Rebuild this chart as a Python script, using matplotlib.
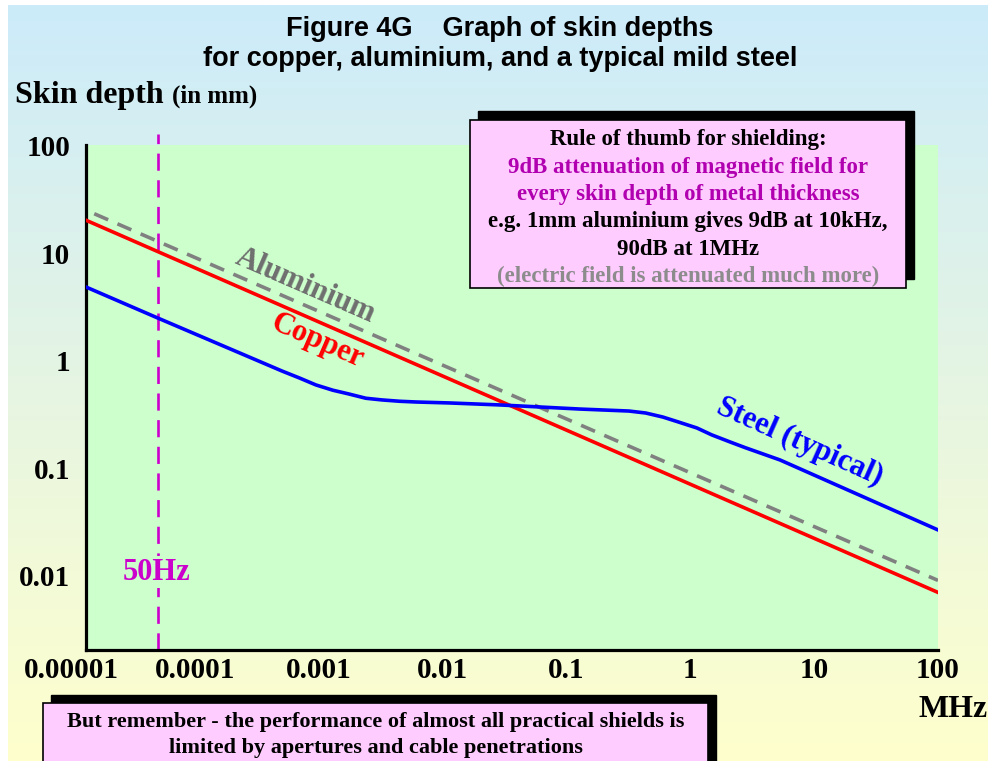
import numpy as np
import matplotlib
matplotlib.use("Agg")
import matplotlib.pyplot as plt
from matplotlib.patches import Rectangle
from matplotlib.transforms import blended_transform_factory

# data (frequency in MHz, skin depth in mm)
copper_freq = [1e-5, 100]
copper_depth = [25.0, 0.0075]

alu_freq = [1e-5, 100]
alu_depth = [31.0, 0.0097]

steel_freq = [1.32e-5, 5e-5, 5.05e-4, 7e-4, 9.5e-4, 1.3e-3,
              1.75e-3, 2.4e-3, 3.24e-3, 4.5e-3, 6.1e-3, 0.0114, 0.029, 0.128,
              0.32, 0.436, 0.6, 0.807, 1.13, 1.49, 2.1, 2.8, 5.3, 100]
steel_depth = [5.2, 2.68, 0.86, 0.74, 0.638, 0.57,
               0.526, 0.48, 0.463, 0.45, 0.443, 0.434, 0.416, 0.381,
               0.365, 0.350, 0.321, 0.288, 0.254, 0.219, 0.188, 0.166, 0.128, 0.0286]

mains_freq = 5e-5  # 50Hz

x_ticks = [1e-5, 1e-4, 1e-3, 1e-2, 1e-1, 1, 10, 100]
x_labels = ["0.00001", "0.0001", "0.001", "0.01", "0.1", "1", "10", "100"]
y_ticks = [100, 10, 1, 0.1, 0.01]
y_labels = ["100", "10", "1", "0.1", "0.01"]

W, H = 988, 761
SERIF = "Liberation Serif"
SANS = "Liberation Sans"
PINK = "#FFCCFF"
GREEN = "#CCFFCC"
MAGENTA = "#CC00CC"


def fx(x):
    return x / W


def fy(y):
    return 1 - y / H


fig = plt.figure(figsize=(W / 100, H / 100), dpi=100, facecolor="white")

# background gradient, light blue -> light yellow
bg = fig.add_axes([fx(8), 0, 1 - fx(8), fy(5)], zorder=-10)
top = np.array([204, 235, 250]) / 255
bot = np.array([255, 255, 204]) / 255
t = np.linspace(0, 1, 256)[:, None, None]
grad = top * (1 - t) + bot * t
bg.imshow(grad, aspect="auto", extent=[0, 1, 0, 1])
bg.axis("off")

# main plot
ax = fig.add_axes([fx(86), fy(650), (938 - 86) / W, (650 - 145) / H])
ax.set_facecolor(GREEN)
ax.set_xscale("log")
ax.set_yscale("log")
ax.set_xlim(1.32e-5, 100)
ax.set_ylim(0.002185, 108.9)
for s in ["top", "right"]:
    ax.spines[s].set_visible(False)
for s in ["left", "bottom"]:
    ax.spines[s].set_linewidth(2.3)
    ax.spines[s].set_color("black")
ax.tick_params(which="both", length=0, labelbottom=False, labelleft=False)

ax.plot(alu_freq, alu_depth, color="#808080", lw=2.6, dashes=(4.2, 2.8), zorder=3)
ax.plot(copper_freq, copper_depth, color="#FF0000", lw=2.6, zorder=4)
ax.plot(steel_freq, steel_depth, color="#0000FF", lw=2.6, zorder=4,
        solid_joinstyle="round")

# 50Hz marker
ax.plot([mains_freq, mains_freq], [0.002185, 138], color=MAGENTA, lw=1.9,
        dashes=(6.5, 3.6), clip_on=False, zorder=2)
ax.text(4.9e-5, 0.0116, "50Hz", color=MAGENTA, fontsize=22, fontweight="bold",
        family=SERIF, ha="center", va="center", zorder=5,
        bbox=dict(facecolor=GREEN, edgecolor="none", pad=1))

# curve labels
ax.text(7.8e-4, 5.3, "Aluminium", color="#6E6E6E", fontsize=22, fontweight="bold",
        family=SERIF, ha="center", va="center", rotation=-23.5)
ax.text(9.8e-4, 1.64, "Copper", color="#FF0000", fontsize=22, fontweight="bold",
        family=SERIF, ha="center", va="center", rotation=-23.5)
ax.text(7.7, 0.188, "Steel (typical)", color="#0000FF", fontsize=22, fontweight="bold",
        family=SERIF, ha="center", va="center", rotation=-24)

# tick labels
tx = blended_transform_factory(ax.transData, ax.transAxes)
for v, lab in zip(x_ticks, x_labels):
    ax.text(v, -20 / 505, lab, transform=tx, fontsize=21, fontweight="bold",
            family=SERIF, ha="center", va="center", clip_on=False)
ty = blended_transform_factory(ax.transAxes, ax.transData)
for v, lab in zip(y_ticks, y_labels):
    ax.text(-16 / 852, v, lab, transform=ty, fontsize=21, fontweight="bold",
            family=SERIF, ha="right", va="center", clip_on=False)

# titles and axis names
fig.text(fx(500), fy(44), "Figure 4G    Graph of skin depths\nfor copper, aluminium, and a typical mild steel",
         ha="center", va="center", fontsize=19.5, fontweight="bold", family=SANS,
         linespacing=1.22)
fig.text(fx(15), fy(103), "Skin depth", fontsize=23, fontweight="bold", family=SERIF,
         ha="left", va="baseline")
fig.text(fx(172), fy(103), "(in mm)", fontsize=18, fontweight="bold", family=SERIF,
         ha="left", va="baseline")
fig.text(fx(918), fy(717), "MHz", fontsize=23, fontweight="bold", family=SERIF,
         ha="left", va="baseline")


def shadow_box(x0, y0, x1, y1, dx, dy):
    fig.add_artist(Rectangle((fx(x0 + dx), fy(y1 + dy)), (x1 - x0) / W, (y1 - y0) / H,
                             transform=fig.transFigure, facecolor="black",
                             edgecolor="black", zorder=5))
    fig.add_artist(Rectangle((fx(x0), fy(y1)), (x1 - x0) / W, (y1 - y0) / H,
                             transform=fig.transFigure, facecolor=PINK,
                             edgecolor="black", lw=1.2, zorder=6))


# rule of thumb box
shadow_box(470, 120, 906, 288, 8, -9)
box_lines = [
    ("Rule of thumb for shielding:", "black"),
    ("9dB attenuation of magnetic field for", "#B000B0"),
    ("every skin depth of metal thickness", "#B000B0"),
    ("e.g. 1mm aluminium gives 9dB at 10kHz,", "black"),
    ("90dB at 1MHz", "black"),
    ("(electric field is attenuated much more)", "#8C8C8C"),
]
for i, (txt, col) in enumerate(box_lines):
    fig.text(fx(688), fy(145 + 27.5 * i), txt, color=col, fontsize=16.5,
             fontweight="bold", family=SERIF, ha="center", va="baseline", zorder=7)

# bottom note box
shadow_box(43, 703, 708, 775, 8, -8)
fig.text(fx(376), fy(727), "But remember - the performance of almost all practical shields is",
         fontsize=16, fontweight="bold", family=SERIF, ha="center", va="baseline", zorder=7)
fig.text(fx(376), fy(753), "limited by apertures and cable penetrations",
         fontsize=16, fontweight="bold", family=SERIF, ha="center", va="baseline", zorder=7)

fig.savefig("out.png", dpi=100, facecolor="white")
